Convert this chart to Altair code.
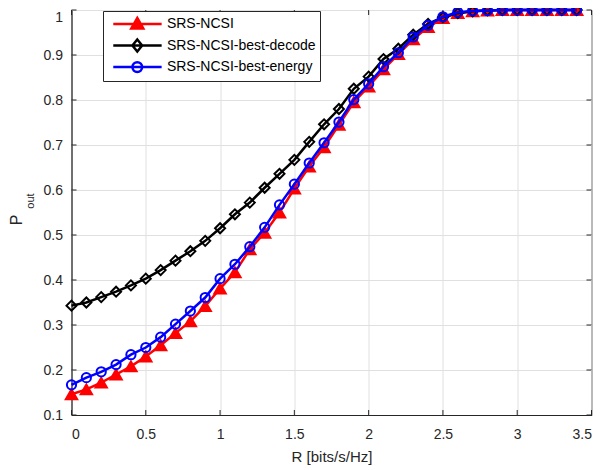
import altair as alt
import pandas as pd

# ---- data ----
R = [0.0, 0.1, 0.2, 0.3, 0.4, 0.5, 0.6, 0.7, 0.8, 0.9,
     1.0, 1.1, 1.2, 1.3, 1.4, 1.5, 1.6, 1.7, 1.8, 1.9,
     2.0, 2.1, 2.2, 2.3, 2.4, 2.5, 2.6, 2.7, 2.8, 2.9,
     3.0, 3.1, 3.2, 3.3, 3.4]

srs_ncsi = [0.146, 0.157, 0.172, 0.190, 0.208, 0.230, 0.255, 0.282, 0.308, 0.342,
            0.381, 0.417, 0.468, 0.505, 0.550, 0.603, 0.652, 0.695, 0.745, 0.795,
            0.830, 0.868, 0.902, 0.935, 0.962, 0.982, 0.993, 0.997, 0.999, 1.0,
            1.0, 1.0, 1.0, 1.0, 1.0]

best_decode = [0.343, 0.350, 0.362, 0.374, 0.388, 0.403, 0.422, 0.443, 0.464, 0.487,
               0.515, 0.546, 0.572, 0.605, 0.636, 0.667, 0.707, 0.746, 0.780, 0.825,
               0.852, 0.891, 0.914, 0.945, 0.969, 0.984, 0.993, 0.997, 0.999, 1.0,
               1.0, 1.0, 1.0, 1.0, 1.0]

best_energy = [0.167, 0.183, 0.196, 0.212, 0.234, 0.250, 0.273, 0.302, 0.331, 0.361,
               0.403, 0.435, 0.474, 0.517, 0.567, 0.613, 0.660, 0.705, 0.751, 0.801,
               0.836, 0.874, 0.905, 0.940, 0.966, 0.985, 0.995, 0.998, 0.999, 1.0,
               1.0, 1.0, 1.0, 1.0, 1.0]

series_names = ["SRS-NCSI", "SRS-NCSI-best-decode", "SRS-NCSI-best-energy"]
series_values = [srs_ncsi, best_decode, best_energy]
series_colors = ["#ff0000", "#000000", "#0000ff"]
series_shapes = ["triangle-up", "diamond", "circle"]
series_fills = ["#ff0000", "transparent", "transparent"]
series_sizes = [130, 100, 85]

x_ticks = [0, 0.5, 1, 1.5, 2, 2.5, 3, 3.5]
y_ticks = [0.1, 0.2, 0.3, 0.4, 0.5, 0.6, 0.7, 0.8, 0.9, 1.0]

# legend symbols: line + marker (custom paths)
legend_paths = [
    "M -0.35 0 L 6.1 0 M 2.85 -0.8 L 3.65 0.6 L 2.05 0.6 Z",
    "M -0.35 0 L 6.1 0 M 2.85 -0.8 L 3.5 0 L 2.85 0.8 L 2.2 0 Z",
    "M -0.35 0 L 6.1 0 M 2.2 0 A 0.65 0.65 0 1 0 3.5 0 A 0.65 0.65 0 1 0 2.2 0",
]

rows = []
for name, vals in zip(series_names, series_values):
    for r, p in zip(R, vals):
        rows.append({"R": r, "P": p, "series": name})
df = pd.DataFrame(rows)

FONT = "Liberation Sans"
AX = "#262626"
W, H = 520, 405

xscale = alt.Scale(domain=[0, 3.5], nice=False, zero=False)
yscale = alt.Scale(domain=[0.1, 1.0], nice=False, zero=False)

xaxis = alt.Axis(values=x_ticks, format="~g", title="R [bits/s/Hz]", grid=True,
                 ticks=False, domain=True, labelPadding=12, titlePadding=8)
yaxis = alt.Axis(values=y_ticks, format="~g", title=None, grid=True,
                 ticks=False, domain=True, labelPadding=9,
                 labelBaseline={"condition": {"test": "datum.value >= 0.99", "value": "top"},
                                "value": "middle"})


def X(field):
    return alt.X(field, scale=xscale, axis=xaxis)


def Y(field):
    return alt.Y(field, scale=yscale, axis=yaxis)


layers = []
for name, col, shp, fil, sz in zip(series_names, series_colors, series_shapes,
                                   series_fills, series_sizes):
    d = df[df["series"] == name]
    line = alt.Chart(d).mark_line(color=col, strokeWidth=2.5).encode(x=X("R:Q"), y=Y("P:Q"))
    pts = alt.Chart(d).mark_point(shape=shp, size=sz, stroke=col, fill=fil, strokeWidth=2,
                                  opacity=1, fillOpacity=1).encode(x=X("R:Q"), y=Y("P:Q"))
    layers += [line, pts]

leg = alt.Legend(title=None, orient="none", legendX=31.5, legendY=1, symbolSize=225,
                 symbolStrokeWidth=2.5, labelOffset=42, labelFontSize=14, labelFont=FONT,
                 labelColor="#000000", padding=3.9, rowPadding=0.6, strokeColor=AX,
                 fillColor="white", symbolOpacity=1, cornerRadius=0, labelLimit=400)

legend_layer = alt.Chart(df).mark_point(opacity=0, strokeWidth=2.5).encode(
    x=X("R:Q"), y=Y("P:Q"),
    stroke=alt.Stroke("series:N", scale=alt.Scale(domain=series_names, range=series_colors), legend=leg),
    fill=alt.Fill("series:N", scale=alt.Scale(domain=series_names, range=series_fills), legend=leg),
    shape=alt.Shape("series:N", scale=alt.Scale(domain=series_names, range=legend_paths), legend=leg),
)

# inward ticks on all four sides
xt = pd.DataFrame({"R": x_ticks})
yt = pd.DataFrame({"P": y_ticks})
tick_layers = [
    alt.Chart(xt).mark_rule(color=AX, strokeWidth=1).encode(
        x=X("R:Q"), y=alt.value(H), y2=alt.value(H - 5)),
    alt.Chart(xt).mark_rule(color=AX, strokeWidth=1).encode(
        x=X("R:Q"), y=alt.value(0), y2=alt.value(5)),
    alt.Chart(yt).mark_rule(color=AX, strokeWidth=1).encode(
        y=Y("P:Q"), x=alt.value(0), x2=alt.value(5)),
    alt.Chart(yt).mark_rule(color=AX, strokeWidth=1).encode(
        y=Y("P:Q"), x=alt.value(W), x2=alt.value(W - 5)),
]

# y title P_out
title_df = pd.DataFrame({"a": [0]})
p_txt = alt.Chart(title_df).mark_text(text="P", font=FONT, fontSize=16, angle=270, color=AX,
                                      align="center", baseline="middle").encode(
    x=alt.value(-54.5), y=alt.value(210))
out_txt = alt.Chart(title_df).mark_text(text="out", font=FONT, fontSize=11, angle=270, color=AX,
                                        align="center", baseline="middle").encode(
    x=alt.value(-41), y=alt.value(191))

chart = alt.layer(*tick_layers, *layers, legend_layer, p_txt, out_txt).properties(
    width=W, height=H,
    padding={"left": 63.5, "top": 2, "right": 15, "bottom": 50},
    autosize=alt.AutoSizeParams(type="none"),
).configure_view(stroke=AX, strokeWidth=1).configure_axis(
    labelFont=FONT, labelFontSize=14, labelColor=AX, titleFont=FONT, titleFontSize=15,
    titleColor=AX, titleFontWeight="normal", gridColor="#e0e0e0", gridWidth=1, gridOpacity=1,
    domainColor=AX, domainWidth=1,
)

chart.save("out.html", embed_options={"renderer": "svg", "actions": False})
